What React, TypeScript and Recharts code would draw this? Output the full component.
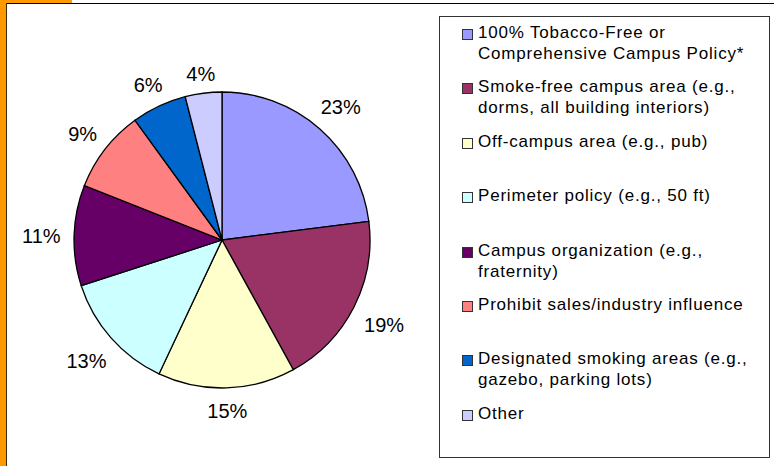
import { PieChart, Pie, Cell, Legend } from "recharts";

const categories = [
  "100% Tobacco-Free or Comprehensive Campus Policy*",
  "Smoke-free campus area (e.g., dorms, all building interiors)",
  "Off-campus area (e.g., pub)",
  "Perimeter policy (e.g., 50 ft)",
  "Campus organization (e.g., fraternity)",
  "Prohibit sales/industry influence",
  "Designated smoking areas (e.g., gazebo, parking lots)",
  "Other",
];
// legend text as it wraps in the original
const legendLines = [
  ["100% Tobacco-Free or", "Comprehensive Campus Policy*"],
  ["Smoke-free campus area (e.g.,", "dorms, all building interiors)"],
  ["Off-campus area (e.g., pub)"],
  ["Perimeter policy (e.g., 50 ft)"],
  ["Campus organization (e.g.,", "fraternity)"],
  ["Prohibit sales/industry influence"],
  ["Designated smoking areas (e.g.,", "gazebo, parking lots)"],
  ["Other"],
];
const shares = [23, 19, 15, 13, 11, 9, 6, 4];
const colors = ["#9999FF", "#993366", "#FFFFCC", "#CCFFFF", "#660066", "#FF8080", "#0066CC", "#CCCCFF"];

const data = categories.map((name, i) => ({ name, value: shares[i] }));

const FONT = "'Liberation Sans', Arial, sans-serif";
const RAD = Math.PI / 180;

// label box sits a fixed gap off the rim, like excel's outside-end labels
function renderLabel(props: any) {
  const { cx, cy, midAngle, outerRadius, value } = props;
  const c = Math.cos(-midAngle * RAD);
  const s = Math.sin(-midAngle * RAD);
  const halfW = value >= 10 ? 20.5 : 14.5;
  const r = outerRadius + 12 + halfW * Math.abs(c) + 8 * Math.abs(s);
  return (
    <text x={cx + r * c} y={cy + r * s + 2} textAnchor="middle" dominantBaseline="central"
      fill="#000" fontSize={20} fontFamily={FONT}>
      {value}%
    </text>
  );
}

function LegendBox() {
  return (
    <div style={{
      width: 331, height: 442, boxSizing: "border-box",
      border: "1px solid #333", background: "#fff", position: "relative",
      fontFamily: FONT, fontSize: 17, letterSpacing: 0.8, color: "#000",
    }}>
      {legendLines.map((lines, i) => (
        <div key={i} style={{ position: "absolute", left: 22, top: 5 + i * 54.4 }}>
          <div style={{
            position: "absolute", left: 0, top: 7, width: 9, height: 9,
            background: colors[i], border: "1px solid #333",
          }} />
          <div style={{ marginLeft: 16, lineHeight: "21px", whiteSpace: "nowrap" }}>
            {lines.map((l, j) => <div key={j}>{l}</div>)}
          </div>
        </div>
      ))}
    </div>
  );
}

export default function App() {
  return (
    <div style={{ position: "absolute", left: 0, top: 0, width: 774, height: 466, background: "#fff", overflow: "hidden" }}>
      <div style={{ position: "absolute", left: 0, top: 0, width: 6, height: 466, background: "#FF9900" }} />
      <div style={{ position: "absolute", left: 0, top: 0, width: 72, height: 3, background: "#FF9900" }} />
      <div style={{ position: "absolute", left: 6, top: 3, width: 768, height: 1, background: "#000" }} />
      <div style={{ position: "absolute", left: 6, top: 3, width: 1, height: 463, background: "#3a2a00" }} />
      <PieChart width={774} height={466} margin={{ top: 0, right: 0, bottom: 0, left: 0 }}>
        <Pie
          data={data}
          dataKey="value"
          nameKey="name"
          cx={222}
          cy={240}
          outerRadius={148}
          startAngle={90}
          endAngle={-270}
          stroke="#000"
          strokeWidth={1.3}
          label={renderLabel}
          labelLine={false}
          isAnimationActive={false}
        >
          {data.map((d, i) => <Cell key={d.name} fill={colors[i]} />)}
        </Pie>
        <Legend
          content={() => <LegendBox />}
          wrapperStyle={{ position: "absolute", left: 439, top: 16, width: 331, height: 442 }}
        />
      </PieChart>
    </div>
  );
}
